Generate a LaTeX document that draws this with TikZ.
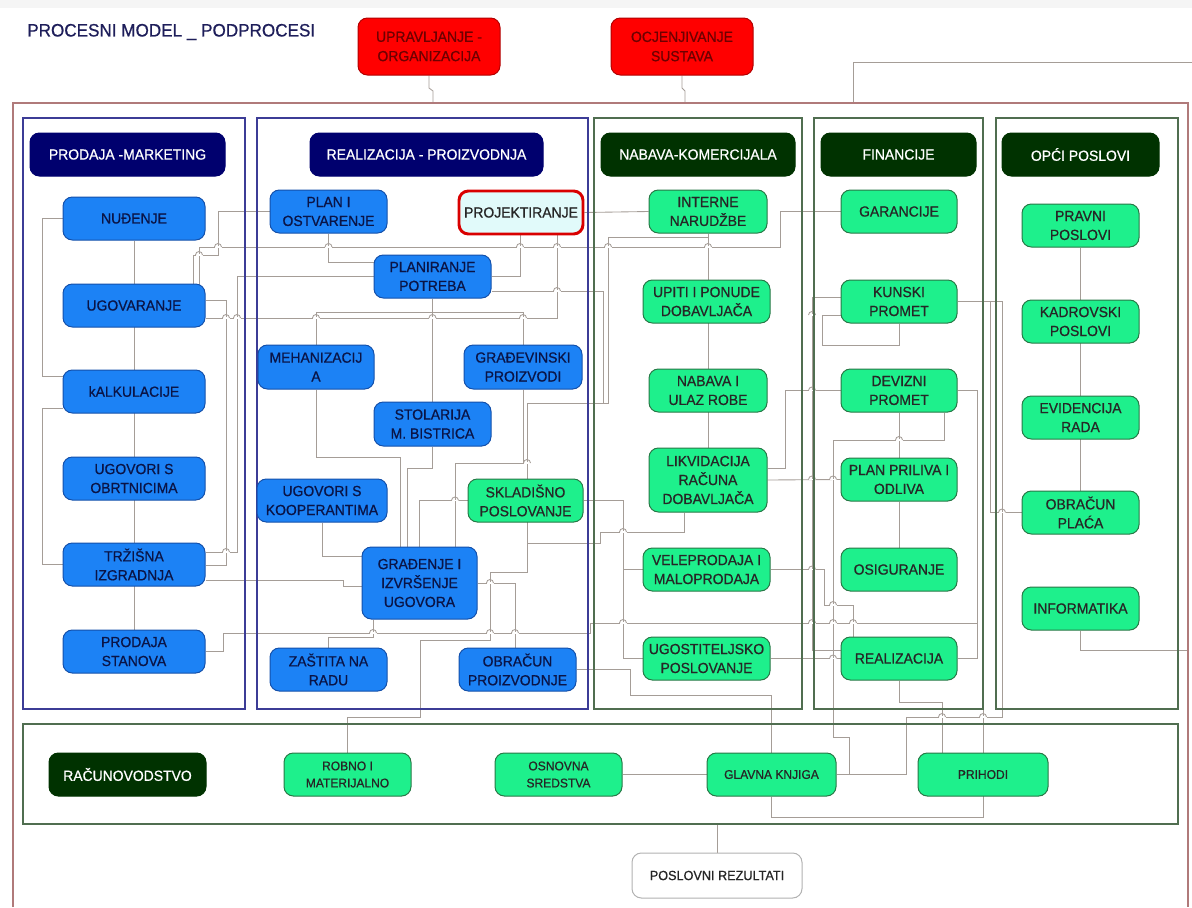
\documentclass[tikz,border=0pt]{standalone}
\usepackage{fontspec}
\setmainfont{Liberation Sans}[FakeStretch=0.95, FakeBold=0.7]
\pgfdeclarelayer{bg}
\pgfsetlayers{bg,main}
\definecolor{frameR}{RGB}{176,122,122}
\definecolor{navyF}{RGB}{60,60,150}
\definecolor{greenF}{RGB}{80,110,80}
\definecolor{headN}{RGB}{0,0,110}
\definecolor{headG}{RGB}{0,50,0}
\definecolor{blueN}{RGB}{28,130,245}
\definecolor{blueB}{RGB}{20,80,170}
\definecolor{greenN}{RGB}{30,240,140}
\definecolor{greenB}{RGB}{40,120,70}
\definecolor{redN}{RGB}{255,0,0}
\definecolor{redT}{RGB}{110,0,0}
\definecolor{conn}{RGB}{165,157,151}
\definecolor{titleC}{RGB}{30,30,90}
\definecolor{txtB}{RGB}{10,20,70}
\definecolor{projF}{RGB}{225,250,250}
\newcommand\hop[2]{\draw[white,line width=1.4pt] (#1-3.5,#2) -- (#1+3.5,#2); \draw[wire] (#1-3.5,#2) arc[start angle=180,end angle=360,radius=3.5];}
\begin{document}
\begin{tikzpicture}[x=0.75pt,y=-0.75pt,
 bx/.style n args={4}{at={({(#1+#3)/2},{(#2+#4)/2})}, minimum width={(#3-#1)*0.75pt}, minimum height={(#4-#2)*0.75pt}},
 base/.style={rectangle, rounded corners=7pt, inner sep=0pt, anchor=center, align=center, font=\fontsize{11}{14.2}\selectfont, line width=0.75pt},
 bluebox/.style={base, fill=blueN, draw=blueB, text=txtB},
 greenbox/.style={base, fill=greenN, draw=greenB, text=black!85},
 lowbox/.style={greenbox, font=\fontsize{9.5}{12.8}\selectfont},
 headnavy/.style={base, fill=headN, draw=headN, text=white, font=\fontsize{11}{13}\selectfont},
 headgreen/.style={base, fill=headG, draw=headG, text=white, font=\fontsize{11}{13}\selectfont},
 redbox/.style={base, fill=redN, draw=red!70!black, text=redT, font=\fontsize{11}{14.5}\selectfont},
 projbox/.style={base, fill=projF, draw=red!85!black, line width=2.2pt, text=black!85},
 resultbox/.style={base, fill=white, draw=gray!60, text=black!85, font=\fontsize{10}{12}\selectfont},
 colblue/.style={draw=navyF, line width=0.9pt},
 colgreen/.style={draw=greenF, line width=0.9pt},
 outer/.style={draw=frameR, line width=1pt},
 wire/.style={draw=conn, line width=0.65pt}
]
\useasboundingbox (0,0) rectangle (1192,907);
\fill[black!4] (0,0) rectangle (1192,8);

% frames
\draw[outer] (13,907) -- (13,103) -- (1188,103) -- (1188,907);
\draw[colblue] (23,118) rectangle (245,709);
\draw[colblue] (257,118) rectangle (588,709);
\draw[colgreen] (594,118) rectangle (802,709);
\draw[colgreen] (814,118) rectangle (983,709);
\draw[colgreen] (996,118) rectangle (1178,709);
\draw[colgreen] (23,724) rectangle (1178,824);

% title and top boxes
\node[anchor=west, inner sep=0pt, text=titleC, font=\fontsize{13.5}{16}\selectfont] (title) at (27,32) {PROCESNI MODEL \_ PODPROCESI};
\node[redbox, bx={358}{18}{500}{75}] (upr) {UPRAVLJANJE -\\ORGANIZACIJA};
\node[redbox, bx={611}{18}{753}{75}] (ocj) {OCJENJIVANJE\\SUSTAVA};

% headers
\node[headnavy, bx={30}{133}{225}{176}] (hprod) {PRODAJA -MARKETING};
\node[headnavy, bx={310}{133}{543}{176}] (hreal) {REALIZACIJA - PROIZVODNJA};
\node[headgreen, bx={601}{133}{795}{176}] (hnab) {NABAVA-KOMERCIJALA};
\node[headgreen, bx={821}{133}{976}{176}] (hfin) {FINANCIJE};
\node[headgreen, bx={1002}{133}{1159}{176}] (hopc) {OPĆI POSLOVI};
\node[headgreen, bx={49}{753}{206}{796}] (hrac) {RAČUNOVODSTVO};

% prodaja
\node[bluebox, bx={63}{197}{205}{240}] (nudj) {NUĐENJE};
\node[bluebox, bx={63}{284}{205}{327}] (ugov) {UGOVARANJE};
\node[bluebox, bx={63}{370}{205}{413}] (kalk) {kALKULACIJE};
\node[bluebox, bx={63}{457}{205}{500}] (obrt) {UGOVORI S\\OBRTNICIMA};
\node[bluebox, bx={63}{543}{205}{586}] (trz) {TRŽIŠNA\\IZGRADNJA};
\node[bluebox, bx={63}{630}{205}{673}] (prst) {PRODAJA\\STANOVA};

% realizacija
\node[bluebox, bx={270}{190}{387}{233}] (plan) {PLAN I\\OSTVARENJE};
\node[projbox, bx={459}{191}{583}{234}] (proj) {PROJEKTIRANJE};
\node[bluebox, bx={374}{255}{491}{298}] (plpot) {PLANIRANJE\\POTREBA};
\node[bluebox, bx={258}{345}{374}{389}] (meh) {MEHANIZACIJ\\A};
\node[bluebox, bx={464}{345}{582}{389}] (grpr) {GRAĐEVINSKI\\PROIZVODI};
\node[bluebox, bx={374}{402}{491}{446}] (stol) {STOLARIJA\\M. BISTRICA};
\node[bluebox, bx={257}{479}{387}{522}] (koop) {UGOVORI S\\KOOPERANTIMA};
\node[greenbox, bx={468}{479}{583}{522}] (sklad) {SKLADIŠNO\\POSLOVANJE};
\node[bluebox, bx={362}{547}{477}{619}] (gradj) {GRAĐENJE I\\IZVRŠENJE\\UGOVORA};
\node[bluebox, bx={270}{648}{387}{691}] (zast) {ZAŠTITA NA\\RADU};
\node[bluebox, bx={459}{648}{576}{691}] (obrpr) {OBRAČUN\\PROIZVODNJE};

% nabava
\node[greenbox, bx={649}{190}{767}{233}] (intn) {INTERNE\\NARUDŽBE};
\node[greenbox, bx={643}{280}{770}{323}] (upit) {UPITI I PONUDE\\DOBAVLJAČA};
\node[greenbox, bx={649}{369}{767}{412}] (nabu) {NABAVA I\\ULAZ ROBE};
\node[greenbox, bx={649}{448}{767}{512}] (likv) {LIKVIDACIJA\\RAČUNA\\DOBAVLJAČA};
\node[greenbox, bx={643}{548}{770}{591}] (velep) {VELEPRODAJA I\\MALOPRODAJA};
\node[greenbox, bx={643}{637}{770}{680}] (ugost) {UGOSTITELJSKO\\POSLOVANJE};

% financije
\node[greenbox, bx={841}{190}{957}{233}] (gar) {GARANCIJE};
\node[greenbox, bx={841}{280}{957}{323}] (kun) {KUNSKI\\PROMET};
\node[greenbox, bx={841}{369}{957}{412}] (dev) {DEVIZNI\\PROMET};
\node[greenbox, bx={841}{458}{957}{501}] (plpr) {PLAN PRILIVA I\\ODLIVA};
\node[greenbox, bx={841}{548}{957}{591}] (osig) {OSIGURANJE};
\node[greenbox, bx={841}{637}{957}{680}] (real) {REALIZACIJA};

% opci poslovi
\node[greenbox, bx={1022}{204}{1139}{247}] (prav) {PRAVNI\\POSLOVI};
\node[greenbox, bx={1022}{300}{1139}{343}] (kadr) {KADROVSKI\\POSLOVI};
\node[greenbox, bx={1022}{396}{1139}{439}] (evid) {EVIDENCIJA\\RADA};
\node[greenbox, bx={1022}{491}{1139}{534}] (oplace) {OBRAČUN\\PLAĆA};
\node[greenbox, bx={1022}{587}{1139}{630}] (info) {INFORMATIKA};

% racunovodstvo
\node[lowbox, bx={284}{753}{411}{796}] (robno) {ROBNO I\\MATERIJALNO};
\node[lowbox, bx={495}{753}{622}{796}] (osn) {OSNOVNA\\SREDSTVA};
\node[lowbox, bx={707}{753}{836}{796}] (glav) {GLAVNA KNJIGA};
\node[lowbox, bx={918}{753}{1048}{796}] (prih) {PRIHODI};
\node[resultbox, bx={632}{853}{802}{898}] (posl) {POSLOVNI REZULTATI};

\coordinate (frtopA) at (433,103);
\coordinate (frtopB) at (685,103);
\coordinate (frtopC) at (853,103);
\coordinate (edgeTop) at (1192,62);
\coordinate (edgeInfo) at (1188,650);
\coordinate (racBot) at (717,824);
\coordinate (finBot) at (983,709);

\begin{pgfonlayer}{bg}
% top
\draw[wire] (upr.south) -- (429,88) -- (433,91) -- (frtopA);
\draw[wire] (ocj.south) -- (682,88) -- (685,91) -- (frtopB);
\draw[wire] (frtopC) -- (853,62) -- (edgeTop);
% prodaja
\draw[wire] (nudj.south) -- (prst.north);
\draw[wire] (nudj.west) -- (42,218.5) -- (42,376) -- (kalk.west |- 0,376);
\draw[wire] (kalk.west |- 0,408) -- (42,408) -- (42,564.5) -- (trz.west);
\draw[wire] (ugov.east |- 0,300) -- (226,300) -- (226,565) -- (trz.east |- 0,565);
\draw[wire] (plpot.west) -- (237,276.5) -- (237,552) -- (trz.east |- 0,552);
\draw[wire] (ugov.east |- 0,318) -- (557,318) -- (557,0 |- proj.south);
\draw[wire] (plan.west) -- (218,211.5) -- (218,255) -- (193,255) -- (193,0 |- ugov.north);
\draw[wire] (gar.west) -- (780,211.5) -- (780,247) -- (199,247) -- (199,0 |- ugov.north);
% realizacija
\draw[wire] (plan.south) -- (328.5,262) -- (plpot.west |- 0,262);
\draw[wire] (plpot.east) -- (520,276.5) -- (520,0 |- proj.south);
\draw[wire] (proj.east) -- (intn.west);
\draw[wire] (plpot.south) -- (stol.north);
\draw[wire] (meh.north) -- (316,312) -- (523,312) -- (grpr.north);
\draw[wire] (plpot.east |- 0,291) -- (603,291) -- (603,403);
\draw[wire] (intn.south) -- (708,237) -- (608,237) -- (608,403) -- (527,403) -- (527,572) -- (490,572) -- (490,640) -- (420,640) -- (420,717) -- (347.5,717) -- (robno.north);
\draw[wire] (meh.south) -- (316,457) -- (400,457) -- (400,0 |- gradj.north);
\draw[wire] (stol.south) -- (432.5,468) -- (407,468) -- (407,0 |- gradj.north);
\draw[wire] (sklad.west) -- (419,500.5) -- (419,0 |- gradj.north);
\draw[wire] (grpr.south) -- (523,463) -- (455,463) -- (455,0 |- gradj.north);
\draw[wire] (koop.south) -- (322,556) -- (gradj.west |- 0,556);
\draw[wire] (trz.east |- 0,580) -- (343,580) -- (343,586) -- (gradj.west |- 0,586);
\draw[wire] (373,0 |- gradj.south) -- (373,637) -- (328.5,637) -- (zast.north);
\draw[wire] (gradj.east |- 0,583) -- (515,583) -- (515,0 |- obrpr.north);
\draw[wire] (prst.east) -- (223,651.5) -- (223,633) -- (590,633) -- (590,623) -- (977,623);
\draw[wire] (dev.east) -- (977,390.5) -- (977,658.5) -- (real.east);
\draw[wire] (obrpr.east) -- (630,669.5) -- (630,695) -- (771.5,695) -- (glav.north);
% nabava
\draw[wire] (sklad.east) -- (623,500.5) -- (623,658.5) -- (ugost.west);
\draw[wire] (623,569.5) -- (velep.west);
\draw[wire] (intn.south) -- (likv.north);
\draw[wire] (684,0 |- likv.south) -- (684,532) -- (600,532) -- (600,543) -- (527,543);
\draw[wire] (likv.east |- 0,468) -- (785,468) -- (785,390.5) -- (dev.west);
\draw[wire] (likv.east) -- (plpr.west);
\draw[wire] (ugost.east) -- (real.west);
\draw[wire] (velep.east) -- (824,569.5) -- (824,605) -- (853,605) -- (853,0 |- real.north);
% financije
\draw[wire] (kun.west |- 0,297) -- (812,297) -- (812,650) -- (real.west |- 0,650);
\draw[wire] (kun.south) -- (899,345) -- (822,345) -- (822,315) -- (kun.west |- 0,315);
\draw[wire] (dev.south) -- (plpr.north);
\draw[wire] (plpr.south) -- (osig.north);
\draw[wire] (944,0 |- dev.south) -- (944,440) -- (833,440) -- (833,737) -- (849,737) -- (849,774.5) -- (glav.east);
\draw[wire] (kun.east) -- (990,301.5) -- (990,512.5) -- (oplace.west);
\draw[wire] (kun.east) -- (1002,301.5) -- (1002,717) -- (906,717) -- (906,774.5) -- (glav.east);
\draw[wire] (real.south) -- (899,702) -- (942,702) -- (942,0 |- prih.north);
% opci
\draw[wire] (prav.south) -- (oplace.north);
\draw[wire] (info.south) -- (1080.5,650) -- (edgeInfo);
% racunovodstvo
\draw[wire] (glav.south) -- (771.5,817) -- (983,817) -- (finBot);
\draw[wire] (osn.east) -- (glav.west);
\draw[wire] (racBot) -- (posl.north);
% line jumps
\hop{226}{318}\hop{237}{318}\hop{316}{318}\hop{432.5}{318}\hop{523}{318}
\hop{218}{247}\hop{328.5}{247}\hop{520}{247}\hop{557}{247}\hop{608}{247}\hop{708}{247}
\hop{199}{255}
\hop{226}{552}
\hop{373}{633}\hop{490}{633}\hop{515}{633}
\hop{623}{623}\hop{812}{623}\hop{833}{623}\hop{853}{623}
\hop{833}{658.5}
\hop{942}{717}\hop{983}{717}
\hop{490}{583}\hop{455}{500.5}\hop{527}{463}
\hop{812}{479.5}\hop{833}{479.5}\hop{812}{390.5}
\hop{1002}{512.5}\hop{899}{440}\hop{557}{291}
\hop{833}{605}\hop{812}{569.5}\hop{812}{315}\hop{623}{532}
\end{pgfonlayer}
\end{tikzpicture}
\end{document}
